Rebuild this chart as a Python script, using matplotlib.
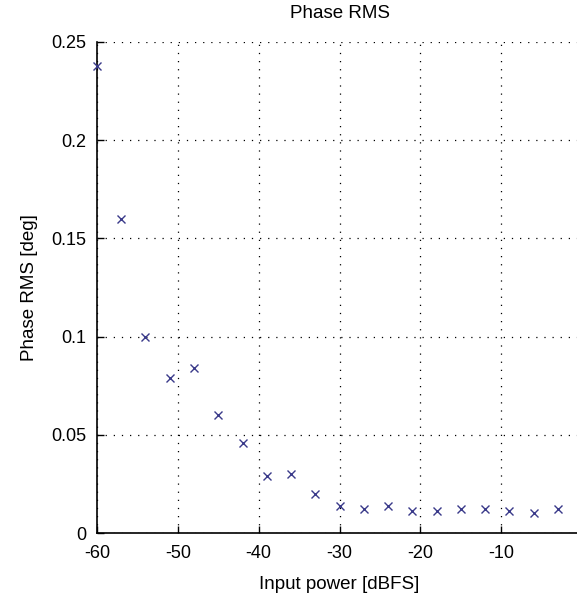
import matplotlib
matplotlib.use("Agg")
import matplotlib.pyplot as plt
import numpy as np

# input power steps (dBFS) and measured phase rms (deg)
power = [-60, -57, -54, -51, -48, -45, -42, -39, -36, -33,
         -30, -27, -24, -21, -18, -15, -12, -9, -6, -3]
phase_rms = [0.238, 0.160, 0.100, 0.079, 0.084, 0.060, 0.046, 0.029, 0.030, 0.020,
             0.014, 0.012, 0.0135, 0.011, 0.011, 0.012, 0.012, 0.011, 0.010, 0.012]

xticks = [-60, -50, -40, -30, -20, -10, 0]
xtick_labels = ["-60", "-50", "-40", "-30", "-20", "-10", ""]  # 0 falls off the cropped edge
yticks = [0, 0.05, 0.1, 0.15, 0.2, 0.25]
ytick_labels = ["0", "0.05", "0.1", "0.15", "0.2", "0.25"]

plt.rcParams['font.family'] = ['Liberation Sans', 'DejaVu Sans']
plt.rcParams['axes.unicode_minus'] = False

fig = plt.figure(figsize=(5.77, 6.01), dpi=100)
ax = fig.add_axes([97/577, 1 - 533/601, (582 - 97)/577, (533 - 42)/601])

ax.plot(power, phase_rms, linestyle='none', marker='x', color='#3a3a8a',
        markersize=5.5, markeredgewidth=1.0, clip_on=False, zorder=3)

ax.set_xlim(-60, 0)
ax.set_ylim(0, 0.25)
ax.set_xticks(xticks)
ax.set_xticklabels(xtick_labels)
ax.set_yticks(yticks)
ax.set_yticklabels(ytick_labels)
ax.grid(True, linestyle=(0, (1, 5.5)), color='black', linewidth=0.9)
ax.spines['top'].set_visible(False)
ax.spines['right'].set_visible(False)
ax.spines['left'].set_linewidth(1.2)
ax.spines['bottom'].set_linewidth(1.2)
ax.tick_params(direction='in', length=5, width=1, labelsize=13)
ax.tick_params(axis='x', pad=9)
ax.tick_params(axis='y', pad=8)

ax.set_title("Phase RMS", fontsize=13.5, pad=17)
ax.set_xlabel("Input power [dBFS]", fontsize=13.5, labelpad=10)
ax.set_ylabel("Phase RMS [deg]", fontsize=13.5, labelpad=9)

fig.savefig("out.png", dpi=100)
